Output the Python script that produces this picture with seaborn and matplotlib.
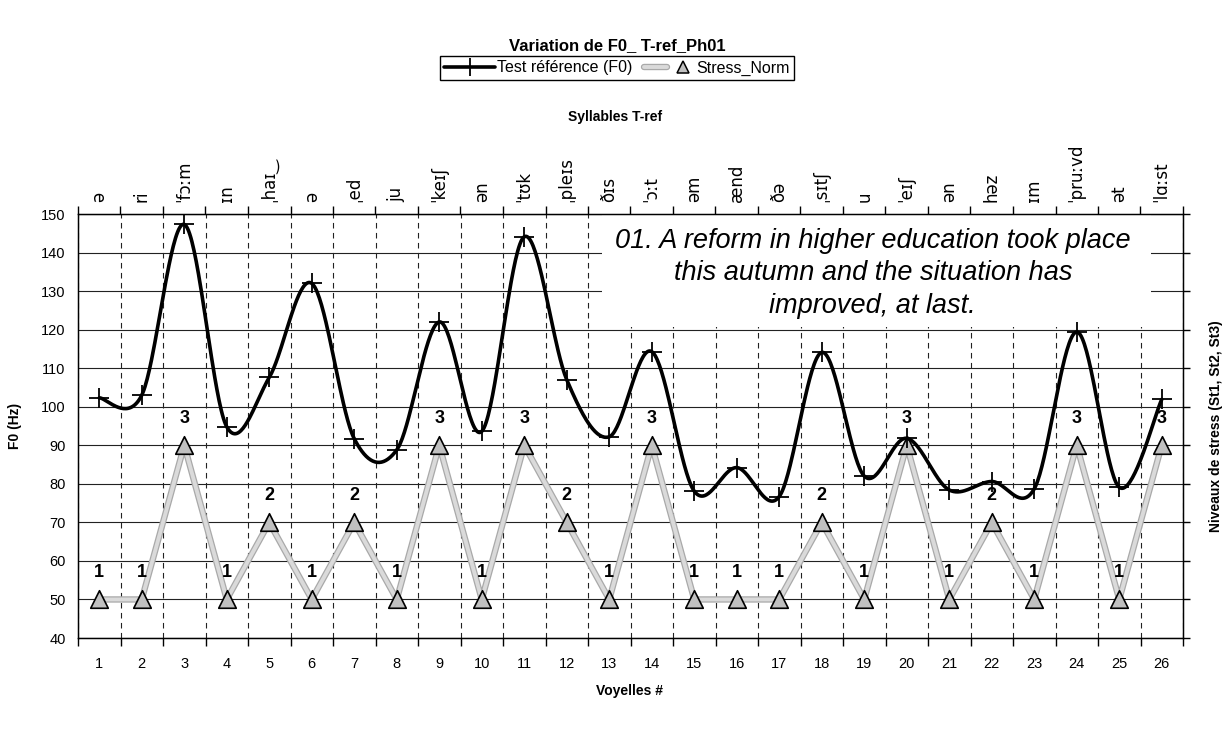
import numpy as np
import pandas as pd
import matplotlib
matplotlib.use("Agg")
import matplotlib.pyplot as plt
import matplotlib.patheffects as pe
from matplotlib.lines import Line2D
from matplotlib.patches import Rectangle
from matplotlib.legend_handler import HandlerTuple
import seaborn as sns

# ---------------- data ----------------
vowels = list(range(1, 27))
syllables = ["ə", "ri", "ˈfɔːm", "ɪn", "ˌhaɪ‿", "ə", "ˌed", "ju", "ˈkeɪʃ", "ən",
             "ˈtʊk", "ˌpleɪs", "ðɪs", "ˈɔːt", "əm", "ænd", "ðə", "ˌsɪtʃ", "u",
             "ˈeɪʃ", "ən", "həz", "ɪm", "ˈpruːvd", "ət", "ˈlɑːst"]
f0_hz = [102.3, 103.0, 147.3, 94.8, 107.6, 132.0, 91.7, 88.8, 122.0, 93.6,
         144.1, 107.0, 92.2, 114.3, 78.1, 84.2, 76.7, 114.1, 82.0, 91.8,
         78.4, 80.6, 78.7, 119.4, 79.1, 101.9]
stress_level = [1, 1, 3, 1, 2, 1, 2, 1, 3, 1, 3, 2, 1, 3, 1, 1, 1, 2, 1, 3,
                1, 2, 1, 3, 1, 3]
stress_norm = [50, 50, 90, 50, 70, 50, 70, 50, 90, 50, 90, 70, 50, 90, 50, 50,
               50, 70, 50, 90, 50, 70, 50, 90, 50, 90]
y_ticks = list(range(40, 151, 10))

title = "Variation de F0_ T-ref_Ph01"
sentence = ("01. A reform in higher education took place\n"
            "this autumn and the situation has\n"
            "improved, at last.")

# ---------------- style ----------------
sns.set_style("white")
plt.rcParams["font.family"] = ["Liberation Sans", "DejaVu Sans"]
for k in ["text.color", "axes.labelcolor", "xtick.color", "ytick.color", "axes.edgecolor"]:
    plt.rcParams[k] = "black"

fig = plt.figure(figsize=(12.31, 7.29), dpi=100)
ax = fig.add_axes([78 / 1231, 1 - 638 / 729, (1183 - 78) / 1231, (638 - 214) / 729])


def excel_smooth(x, y, n=40):
    pts = np.column_stack([x, y]).astype(float)
    m = len(pts)
    out = []
    for i in range(m - 1):
        p0 = pts[i - 1] if i > 0 else pts[i]
        p1 = pts[i]
        p2 = pts[i + 1]
        p3 = pts[i + 2] if i + 2 < m else pts[i + 1]
        c1 = p1 + (p2 - p0) / 6.0
        c2 = p2 - (p3 - p1) / 6.0
        t = np.linspace(0, 1, n)[:, None]
        seg = ((1 - t) ** 3) * p1 + 3 * ((1 - t) ** 2) * t * c1 + 3 * (1 - t) * t ** 2 * c2 + t ** 3 * p2
        out.append(seg if i == 0 else seg[1:])
    out = np.vstack(out)
    return out[:, 0], out[:, 1]


df = pd.DataFrame({"vowel": vowels, "f0": f0_hz, "stress": stress_norm})
sx, sy = excel_smooth(df["vowel"], df["f0"])
smooth = pd.DataFrame({"x": sx, "y": sy})

stress_fx = [pe.Stroke(linewidth=4.6, foreground="#a9a9a9"), pe.Normal()]

# stress line (textured grey)
sns.lineplot(data=df, x="vowel", y="stress", ax=ax, color="#dadada", lw=2.8,
             zorder=3, path_effects=stress_fx)
sns.scatterplot(data=df, x="vowel", y="stress", ax=ax, marker="^", s=160,
                color="#c0c0c0", edgecolor="black", linewidth=1.2, zorder=4)

# F0 smoothed line
sns.lineplot(data=smooth, x="x", y="y", sort=False, estimator=None, ax=ax,
             color="black", lw=2.6, zorder=5)
sns.scatterplot(data=df, x="vowel", y="f0", ax=ax, marker="+", s=220,
                color="black", linewidth=1.3, zorder=6)

# stress level numbers
for v, lvl, sv in zip(vowels, stress_level, stress_norm):
    ax.text(v, sv + 7, str(lvl), ha="center", va="center", fontsize=13,
            fontweight="bold", zorder=7)

# ---------------- axes ----------------
ax.set_xlim(0.5, 26.5)
ax.set_ylim(40, 150)
ax.set_xticks(vowels)
ax.set_xticklabels([str(v) for v in vowels], fontsize=10.5)
ax.set_xticks(np.arange(0.5, 27, 1.0), minor=True)
ax.tick_params(axis="x", which="major", length=0, pad=14)
ax.tick_params(axis="x", which="minor", length=6, width=1, color="black", direction="out")
ax.set_yticks(y_ticks)
ax.set_yticklabels([str(t) for t in y_ticks], fontsize=10.5)
ax.tick_params(axis="y", which="major", length=5, width=1, color="black",
               direction="out", right=True, pad=4)
ax.set_xlabel("")
ax.set_ylabel("")

ax.set_axisbelow(True)
ax.grid(which="major", axis="y", color="#222222", lw=0.8)
ax.grid(which="minor", axis="x", color="#222222", lw=0.8, linestyle=(0, (5, 4)))
ax.grid(which="major", axis="x", visible=False)
for s in ax.spines.values():
    s.set_visible(True)
    s.set_color("black")
    s.set_linewidth(1.0)

# white box with sentence
ax.add_patch(Rectangle((12.83, 120.6), 12.92, 29.2, facecolor="white",
                       edgecolor="none", zorder=1))
ax.text(19.2, 134.6, sentence, ha="center", va="center", fontsize=19.5,
        fontstyle="italic", linespacing=1.33, zorder=2)

# top axis with syllables
top = ax.twiny()
top.set_xlim(ax.get_xlim())
top.set_xticks(vowels)
top.set_xticklabels(syllables, rotation=90, fontsize=12,
                    family=["DejaVu Sans"])
top.set_xticks(np.arange(0.5, 27, 1.0), minor=True)
top.tick_params(axis="x", which="major", length=0, pad=9)
top.tick_params(axis="x", which="minor", length=6, width=1, color="black", direction="out")
top.grid(False)
for s in top.spines.values():
    s.set_visible(True)
    s.set_color("black")

# ---------------- legend & labels ----------------
h_f0 = Line2D([], [], color="black", lw=2.6, marker="+", markersize=13, mew=1.3)
h_st_line = Line2D([], [], color="#dadada", lw=2.8, path_effects=stress_fx)
h_st_mark = Line2D([], [], color="none", marker="^", markersize=9,
                   markerfacecolor="#c0c0c0", markeredgecolor="black", mew=1.1)
fig.legend([h_f0, (h_st_line, h_st_mark)], ["Test référence (F0)", "Stress_Norm"],
           handler_map={tuple: HandlerTuple(ndivide=None)},
           loc="center", bbox_to_anchor=(617 / 1231, 1 - 68 / 729), ncol=2,
           frameon=True, fancybox=False, edgecolor="black", framealpha=1,
           fontsize=11.5, handlelength=3.2, handletextpad=0.1, columnspacing=0.7,
           borderpad=0.25, borderaxespad=0)

fig.text(617 / 1231, 1 - 46 / 729, title, ha="center", va="center",
         fontsize=12, fontweight="bold")
fig.text(615 / 1231, 1 - 117 / 729, "Syllables T-ref", ha="center", va="center",
         fontsize=10, fontweight="bold")
fig.text(630 / 1231, 1 - 691 / 729, "Voyelles #", ha="center", va="center",
         fontsize=10, fontweight="bold")
fig.text(15 / 1231, 1 - 426 / 729, "F0 (Hz)", ha="center", va="center",
         rotation=90, fontsize=10, fontweight="bold")
fig.text(1216 / 1231, 1 - 426 / 729, "Niveaux de stress (St1, St2, St3)",
         ha="center", va="center", rotation=90, fontsize=10, fontweight="bold")

fig.savefig("out.png", dpi=100, facecolor="white")
